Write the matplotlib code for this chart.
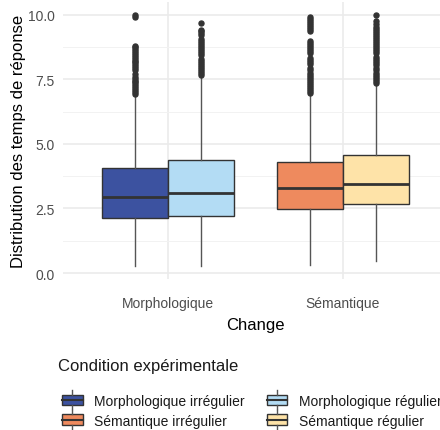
import matplotlib.pyplot as plt
from matplotlib.legend_handler import HandlerBase
from matplotlib.patches import Rectangle
from matplotlib.lines import Line2D

plt.rcParams['font.family'] = ['Liberation Sans', 'DejaVu Sans']

# Box statistics
categories = ['Morphologique', 'Sémantique']
conditions = ['Morphologique irrégulier', 'Morphologique régulier',
              'Sémantique irrégulier', 'Sémantique régulier']
colors = ['#3C52A0', '#B3DCF4', '#EE8A5E', '#FEE3A8']

whislo = [0.26, 0.26, 0.30, 0.45]
q1 = [2.14, 2.19, 2.46, 2.67]
med = [2.94, 3.08, 3.30, 3.44]
q3 = [4.07, 4.37, 4.28, 4.55]
whishi = [6.88, 7.63, 6.94, 7.33]

fliers_mi = [6.92, 7.0, 7.08, 7.15, 7.22, 7.3, 7.38, 7.45, 7.52, 7.6, 7.7,
             7.85, 7.92, 8.0, 8.08, 8.15, 8.22, 8.3, 8.38, 8.45, 8.52, 8.6,
             8.68, 8.75, 8.8, 9.92, 9.98]
fliers_mr = [7.66, 7.74, 7.82, 7.9, 7.98, 8.06, 8.14, 8.22, 8.3, 8.45, 8.52,
             8.6, 8.68, 8.76, 8.84, 8.92, 9.0, 9.06, 9.2, 9.28, 9.35, 9.42,
             9.69]
fliers_si = [6.96, 7.04, 7.12, 7.2, 7.28, 7.36, 7.44, 7.52, 7.6, 7.68, 7.76,
             7.84, 7.92, 8.1, 8.18, 8.26, 8.34, 8.5, 8.58, 8.66, 8.74, 8.82,
             8.9, 8.98, 9.36, 9.44, 9.52, 9.6, 9.68, 9.76, 9.84, 9.91]
fliers_sr = [7.36, 7.44, 7.52, 7.6, 7.68, 7.76, 7.84, 7.92, 8.06, 8.14, 8.22,
             8.3, 8.38, 8.5, 8.58, 8.66, 8.74, 8.82, 8.9, 8.98, 9.06, 9.14,
             9.22, 9.3, 9.38, 9.46, 9.54, 9.62, 9.74, 10.0]
fliers = [fliers_mi, fliers_mr, fliers_si, fliers_sr]

# category index of each box and its dodge offset
box_cat = [1, 1, 2, 2]
box_dodge = [-0.1875, 0.1875, -0.1875, 0.1875]

stats = []
for i in range(4):
    stats.append(dict(whislo=whislo[i], q1=q1[i], med=med[i], q3=q3[i],
                      whishi=whishi[i], fliers=fliers[i]))
positions = [c + d for c, d in zip(box_cat, box_dodge)]

fig = plt.figure(figsize=(4.4, 4.31), dpi=100)
ax = fig.add_axes([63 / 440, 1 - 280 / 431, 385 / 440, 277 / 431])

line_col = '#333333'
bp = ax.bxp(stats, positions=positions, widths=0.375, patch_artist=True,
            showcaps=False,
            boxprops=dict(edgecolor=line_col, linewidth=1.0),
            medianprops=dict(color=line_col, linewidth=2.0),
            whiskerprops=dict(color='#555555', linewidth=1.0),
            flierprops=dict(marker='o', markerfacecolor=line_col,
                            markeredgecolor=line_col, markersize=3.6))
for patch, c in zip(bp['boxes'], colors):
    patch.set_facecolor(c)
for art in bp['boxes'] + bp['medians'] + bp['whiskers'] + bp['fliers']:
    art.set_zorder(3)

ax.set_xlim(0.4, 2.6)
ax.set_ylim(-0.23, 10.49)
ax.set_xticks([1, 2])
ax.set_xticklabels(categories)
ax.set_yticks([0, 2.5, 5, 7.5, 10])
ax.set_yticklabels(['0.0', '2.5', '5.0', '7.5', '10.0'])
ax.set_yticks([1.25, 3.75, 6.25, 8.75], minor=True)
ax.tick_params(axis='both', which='both', length=0, labelsize=10,
               labelcolor='#4D4D4D')
ax.tick_params(axis='x', pad=12)
ax.tick_params(axis='y', pad=6)

ax.grid(True, which='major', color='#EBEBEB', linewidth=1.2)
ax.grid(True, which='minor', axis='y', color='#F2F2F2', linewidth=0.7)
ax.set_axisbelow(True)
for s in ax.spines.values():
    s.set_visible(False)

ax.set_xlabel('Change', fontsize=12, labelpad=5)
ax.set_ylabel('Distribution des temps de réponse', fontsize=12, labelpad=1)


class BoxKeyHandler(HandlerBase):
    def create_artists(self, legend, orig_handle, xdescent, ydescent,
                       width, height, fontsize, trans):
        x0, y0 = -xdescent, -ydescent
        rect = Rectangle((x0, y0), width, height,
                         facecolor=orig_handle.get_facecolor(),
                         edgecolor='#333333', linewidth=1.0, transform=trans)
        midline = Line2D([x0, x0 + width], [y0 + height / 2] * 2,
                         color='#333333', linewidth=1.5, transform=trans)
        top = Line2D([x0 + width / 2] * 2, [y0 + height, y0 + height + 3],
                     color='#555555', linewidth=1.0, transform=trans)
        bot = Line2D([x0 + width / 2] * 2, [y0 - 3, y0],
                     color='#555555', linewidth=1.0, transform=trans)
        return [rect, midline, top, bot]


# ggplot fills legend rows first, matplotlib fills columns: reorder
order = [0, 2, 1, 3]
handles = [Rectangle((0, 0), 1, 1, facecolor=colors[i]) for i in order]
labels = [conditions[i] for i in order]

fig.text(58 / 440, 1 - 367 / 431, 'Condition expérimentale', fontsize=12,
         ha='left', va='center', color='#1A1A1A')
leg = fig.legend(handles, labels, loc='upper left',
                 bbox_to_anchor=(52 / 440, 1 - 385 / 431), ncol=2,
                 frameon=False, fontsize=10,
                 handler_map={Rectangle: BoxKeyHandler()},
                 handlelength=1.5, handleheight=0.8, handletextpad=0.85,
                 columnspacing=1.55, labelspacing=0.42, borderpad=0.2)
for t in leg.get_texts():
    t.set_color('#1A1A1A')

fig.savefig('out.png', dpi=100)
